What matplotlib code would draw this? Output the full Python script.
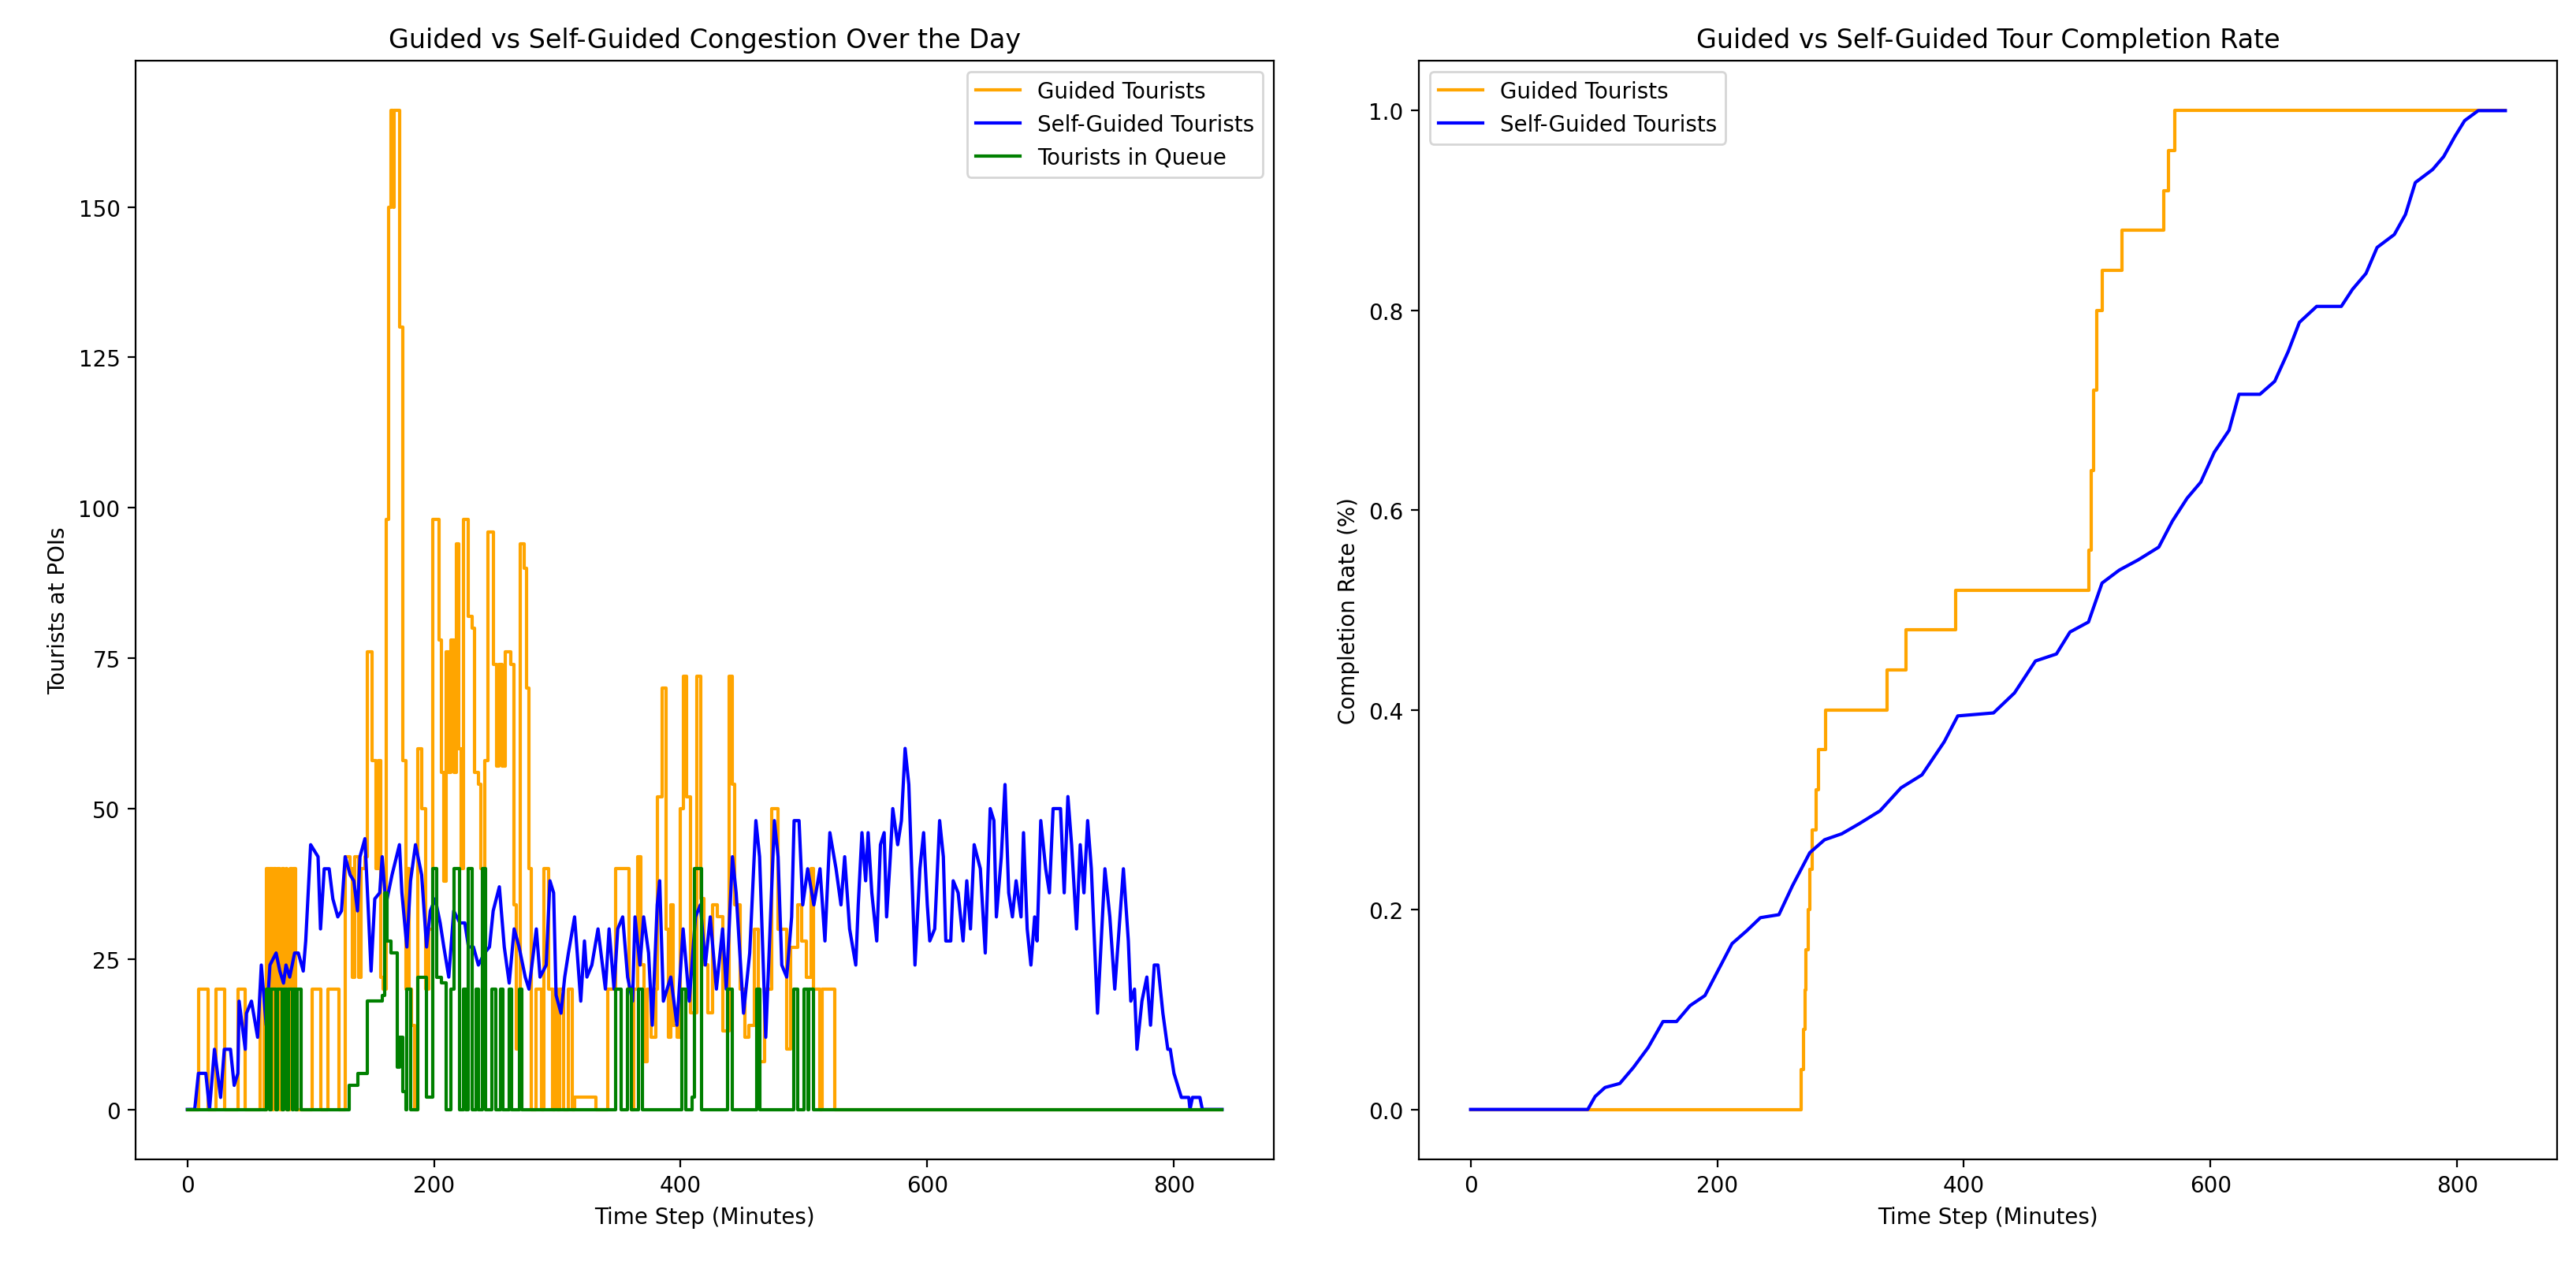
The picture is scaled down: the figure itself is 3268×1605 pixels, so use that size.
import numpy as np
import matplotlib
matplotlib.use("Agg")
import matplotlib.pyplot as plt

# ---------- data (minute, value) ----------
N_STEPS = 840  # time steps 0..839

# guided tourists at POIs, step changes
guided_t = [0, 9, 17, 23, 30, 41, 47, 59, 62,
            64, 66, 67, 69, 70, 72, 73, 75, 77, 78, 80, 81, 83, 85, 86, 88, 89,
            101, 108, 114, 123, 128, 132, 134, 136, 139, 141, 144, 146, 150, 153,
            155, 157, 159, 161, 163, 165, 167, 168, 172, 175, 177, 178, 180, 182,
            184, 187, 190, 193, 196, 199, 204, 206, 208, 210, 212, 214, 216, 218,
            220, 222, 224, 228, 231, 233, 236, 238, 241, 244, 248, 251, 253, 255,
            258, 262, 265, 267, 270, 273, 275, 277, 279,
            283, 287, 289, 293, 296, 298, 300, 302, 305, 309, 312, 314, 331, 341,
            347, 358, 360, 362, 365, 368, 370, 373, 376, 380, 381, 385, 388, 390,
            392, 394, 397, 400, 402, 405, 408, 413, 416, 419, 422, 426, 430, 434,
            439, 442, 444, 448, 452, 455, 460, 463, 468, 474, 479, 486, 489, 495,
            498, 502, 506, 508, 513, 515, 525, 839]
guided_v = [0, 20, 0, 20, 0, 20, 0, 20, 0,
            40, 20, 40, 0, 40, 20, 40, 0, 40, 20, 40, 0, 40, 20, 40, 20, 0,
            20, 0, 20, 0, 42, 40, 22, 42, 22, 40, 42, 76, 58, 40,
            58, 22, 20, 98, 150, 166, 150, 166, 130, 58, 20, 40, 20, 14,
            0, 60, 50, 20, 30, 98, 78, 56, 38, 76, 56, 78, 56, 94,
            60, 40, 98, 82, 80, 56, 54, 40, 58, 96, 74, 57, 74, 57,
            76, 74, 34, 10, 94, 90, 70, 40, 0,
            20, 0, 40, 20, 0, 20, 0, 20, 0, 20, 0, 2, 0, 20,
            40, 20, 0, 20, 42, 24, 8, 20, 12, 20, 52, 70, 30, 12,
            34, 14, 12, 50, 72, 52, 16, 72, 35, 24, 16, 34, 32, 13,
            72, 54, 34, 20, 12, 14, 30, 8, 20, 50, 30, 10, 27, 34,
            28, 22, 40, 20, 0, 20, 0, 0]

# self-guided tourists at POIs
self_t = [0, 6, 9, 15, 18, 22, 27, 30, 35, 38, 41, 42, 47, 48, 52, 57, 60, 64,
          67, 72, 75, 78, 80, 83, 87, 90, 94, 96, 100, 106, 108, 111, 115, 118,
          122, 125, 128, 132, 135, 138, 140, 144, 147, 149, 152, 156, 158, 161,
          166, 172, 174, 178, 181, 185, 190, 194, 197, 201, 205, 208, 212, 216,
          221, 225, 228, 232, 236, 241, 245, 248, 253, 257, 261, 265, 269, 274,
          277, 283, 286, 291, 294, 297, 299, 303, 306, 309, 314, 319, 322, 324,
          328, 333, 339, 342, 346, 349, 353, 357, 361, 363, 367, 370, 374, 377,
          381, 383, 386, 392, 397, 402, 407, 412, 416, 420, 424, 429, 434, 437,
          442, 445, 451, 456, 461, 464, 469, 476, 479, 482, 486, 490, 492, 496,
          499, 503, 508, 513, 517, 521, 526, 530, 533, 537, 542, 544, 547, 550,
          552, 555, 559, 562, 565, 567, 570, 572, 576, 579, 582, 585, 590, 594,
          597, 600, 602, 606, 610, 613, 615, 619, 621, 625, 629, 632, 635, 638,
          643, 647, 651, 654, 656, 660, 663, 666, 669, 672, 676, 678, 681, 684,
          687, 689, 692, 696, 699, 702, 708, 711, 714, 717, 721, 724, 727, 730,
          733, 738, 744, 748, 752, 759, 763, 765, 768, 770, 774, 778, 781, 784,
          787, 791, 795, 797, 800, 803, 806, 812, 813, 815, 821, 823, 839]
self_v = [0, 0, 6, 6, 0, 10, 2, 10, 10, 4, 6, 18, 10, 16, 18, 12, 24, 14,
          24, 26, 23, 21, 24, 22, 26, 26, 23, 28, 44, 42, 30, 40, 40, 35,
          32, 33, 42, 39, 38, 33, 42, 45, 32, 23, 35, 36, 42, 34,
          39, 44, 36, 27, 38, 44, 39, 27, 33, 35, 31, 27, 22, 33,
          31, 31, 27, 27, 24, 26, 27, 33, 37, 27, 21, 30, 27, 22,
          20, 30, 22, 24, 38, 36, 19, 16, 22, 26, 32, 18, 28, 22,
          24, 30, 20, 30, 20, 30, 32, 22, 18, 32, 24, 32, 26, 14,
          34, 38, 18, 22, 14, 30, 18, 32, 34, 24, 32, 20, 30, 20,
          42, 36, 16, 26, 48, 42, 12, 48, 42, 24, 22, 32, 48, 48,
          34, 40, 34, 40, 28, 46, 40, 34, 42, 30, 24, 34, 46, 38,
          46, 36, 28, 44, 46, 32, 42, 50, 44, 48, 60, 54, 24, 40,
          46, 34, 28, 30, 48, 42, 28, 28, 38, 36, 28, 38, 30, 44,
          40, 26, 50, 48, 32, 42, 54, 36, 32, 38, 32, 46, 30, 24,
          32, 28, 48, 40, 36, 50, 50, 36, 52, 44, 30, 44, 36, 48,
          40, 16, 40, 32, 20, 40, 28, 18, 20, 10, 18, 22, 14, 24,
          24, 16, 10, 10, 6, 4, 2, 2, 0, 2, 2, 0, 0]

# tourists in queue, step changes
queue_t = [0, 64, 67, 68, 72, 73, 77, 78, 81, 82, 85, 86, 88, 89, 92,
           131, 138, 146, 158, 160, 162, 165, 170, 172, 175, 177, 178, 181,
           187, 194, 199, 202, 206, 210, 214, 216, 221, 224, 226, 228, 231,
           234, 236, 239, 242, 247, 250, 254, 256, 261, 263, 269, 271,
           347, 352, 357, 360, 366, 369, 401, 404, 409, 411, 417, 438, 442,
           462, 464, 492, 495, 500, 503, 504, 508, 839]
queue_v = [0, 20, 0, 20, 0, 20, 0, 20, 0, 20, 0, 20, 0, 20, 0,
           4, 6, 18, 19, 36, 28, 26, 7, 12, 3, 0, 20, 0,
           22, 2, 40, 22, 21, 0, 20, 40, 0, 20, 0, 40, 0,
           20, 0, 40, 0, 20, 0, 20, 0, 20, 0, 20, 0,
           20, 0, 20, 0, 20, 0, 20, 0, 2, 40, 0, 20, 0,
           20, 0, 20, 0, 20, 0, 20, 0, 0]

# completion rates
guided_cr_t = [0, 268, 270, 271, 272, 274, 275, 277, 280, 282, 288, 338, 353,
               393, 501, 503, 505, 508, 512, 528, 562, 566, 571, 839]
guided_cr_v = [0, 0.04, 0.08, 0.12, 0.16, 0.20, 0.24, 0.28, 0.32, 0.36, 0.40,
               0.44, 0.48, 0.52, 0.56, 0.64, 0.72, 0.80, 0.84, 0.88, 0.92,
               0.96, 1.0, 1.0]

self_cr_t = [0, 95, 101, 109, 121, 132, 144, 156, 167, 178, 190, 201, 212,
             224, 235, 250, 261, 275, 287, 301, 315, 332, 349, 366, 384, 395,
             424, 441, 458, 475, 486, 501, 512, 526, 541, 558, 569, 581, 592,
             603, 615, 623, 640, 652, 663, 672, 686, 706, 715, 726, 735, 749,
             758, 766, 780, 789, 798, 806, 817, 823, 839]
self_cr_v = [0, 0, 0.013, 0.022, 0.026, 0.042, 0.062, 0.088, 0.088, 0.104,
             0.114, 0.14, 0.166, 0.179, 0.192, 0.195, 0.224, 0.257, 0.27,
             0.276, 0.286, 0.299, 0.322, 0.335, 0.368, 0.394, 0.397, 0.417,
             0.449, 0.456, 0.478, 0.488, 0.527, 0.54, 0.55, 0.563, 0.589,
             0.612, 0.628, 0.658, 0.68, 0.716, 0.716, 0.729, 0.759, 0.788,
             0.804, 0.804, 0.821, 0.837, 0.863, 0.876, 0.896, 0.928, 0.941,
             0.954, 0.974, 0.99, 1.0, 1.0, 1.0]
# ------------------------------------------------------------------

W, H = 3268, 1606
DPI = 200
fig = plt.figure(figsize=(W / DPI, H / DPI), dpi=DPI)

ax1 = fig.add_axes([172 / W, 134 / H, 1444 / W, 1394 / H])
ax2 = fig.add_axes([1800 / W, 134 / H, 1444 / W, 1394 / H])

# left: congestion
ax1.step(guided_t, guided_v, where="post", color="orange", lw=1.5, label="Guided Tourists")
ax1.plot(self_t, self_v, color="blue", lw=1.5, label="Self-Guided Tourists")
ax1.step(queue_t, queue_v, where="post", color="green", lw=1.5, label="Tourists in Queue")
ax1.set_title("Guided vs Self-Guided Congestion Over the Day")
ax1.set_xlabel("Time Step (Minutes)")
ax1.set_ylabel("Tourists at POIs")
ax1.set_xticks([0, 200, 400, 600, 800])
ax1.set_yticks([0, 25, 50, 75, 100, 125, 150])
ax1.legend(loc="upper right")

# right: completion rate
ax2.step(guided_cr_t, guided_cr_v, where="post", color="orange", lw=1.5, label="Guided Tourists")
ax2.plot(self_cr_t, self_cr_v, color="blue", lw=1.5, label="Self-Guided Tourists")
ax2.set_title("Guided vs Self-Guided Tour Completion Rate")
ax2.set_xlabel("Time Step (Minutes)")
ax2.set_ylabel("Completion Rate (%)")
ax2.set_xticks([0, 200, 400, 600, 800])
ax2.set_yticks([0.0, 0.2, 0.4, 0.6, 0.8, 1.0])
ax2.legend(loc="upper left")

fig.savefig("out.png", dpi=DPI)
